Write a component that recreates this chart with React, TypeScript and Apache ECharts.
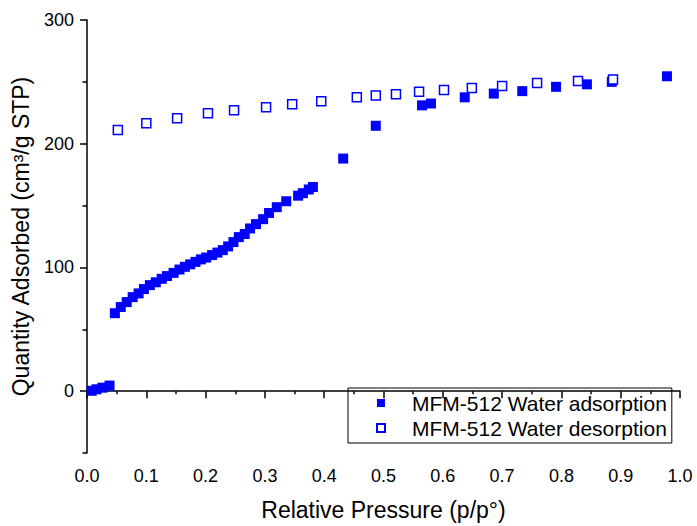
import React, { useEffect, useRef } from "react";
import * as echarts from "echarts";

const adsorptionX = [
  0.008, 0.016, 0.026, 0.038,
  0.047, 0.057, 0.067, 0.077, 0.087, 0.096, 0.106, 0.116, 0.126, 0.135, 0.146, 0.156,
  0.165, 0.174, 0.183, 0.192, 0.201, 0.211, 0.22, 0.229, 0.238, 0.247, 0.256, 0.266,
  0.275, 0.285, 0.297, 0.307, 0.32, 0.336, 0.356, 0.364, 0.374, 0.381,
  0.432, 0.487, 0.565, 0.58, 0.637, 0.686, 0.734, 0.791, 0.843, 0.885, 0.978,
];
const adsorptionY = [
  0.3, 1.5, 2.8, 4.5,
  63, 68, 72, 76, 79, 82.5, 85.7, 88, 90.8, 93, 95.6, 98.3,
  100.5, 102.5, 104.5, 106.5, 108, 110, 112, 114, 117, 120.5, 124.5, 127,
  131.5, 135, 139, 144, 148.7, 153.5, 158, 160, 163, 165,
  188, 214.5, 231, 232.5, 237.5, 240.5, 242.5, 246, 248, 250, 254.5,
];
const desorptionX = [
  0.052, 0.1, 0.152, 0.204, 0.248, 0.302, 0.346, 0.395, 0.455, 0.487, 0.521, 0.56,
  0.602, 0.649, 0.7, 0.759, 0.828, 0.887,
];
const desorptionY = [
  211, 216.5, 220.6, 224.6, 227, 229.5, 232, 234.4, 237.6, 239, 240, 242,
  243.5, 245, 246.7, 249, 250.6, 252,
];
const yMajorTicks = [0, 100, 200, 300];
const yMinorTicks = [-50, 50, 150, 250];
const seriesNames = ["MFM-512 Water adsorption", "MFM-512 Water desorption"];
const xAxisName = "Relative Pressure (p/p°)";
const yAxisName = "Quantity Adsorbed (cm³/g STP)";

const FONT = "'Liberation Sans', Arial, sans-serif";
const BLUE = "#0000ff";

export default function App() {
  const ref = useRef<HTMLDivElement>(null);
  useEffect(() => {
    if (!ref.current) return;
    const chart = echarts.init(ref.current, null, { renderer: "svg" });
    const ads = adsorptionX.map((x, i) => [x, adsorptionY[i]]);
    const des = desorptionX.map((x, i) => [x, desorptionY[i]]);
    chart.setOption({
      animation: false,
      backgroundColor: "#ffffff",
      textStyle: { fontFamily: FONT, color: "#000" },
      grid: { left: 87, right: 17, top: 20, bottom: 73, containLabel: false, outerBoundsMode: "none" },
      legend: {
        left: 348,
        top: 388,
        orient: "vertical",
        padding: [4.5, 5, 4.5, 28],
        borderColor: "#000",
        borderWidth: 1,
        itemWidth: 8,
        itemHeight: 8,
        itemGap: 4,
        icon: "rect",
        textStyle: { fontSize: 21, lineHeight: 21, color: "#000", fontFamily: FONT, padding: [0, 0, 0, 22] },
        data: seriesNames,
      },
      xAxis: {
        type: "value",
        min: 0,
        max: 1,
        interval: 0.1,
        name: xAxisName,
        nameLocation: "middle",
        nameGap: 45,
        nameTextStyle: { fontSize: 23, color: "#000", fontFamily: FONT },
        axisLine: { show: true, lineStyle: { color: "#000", width: 1.5 } },
        axisTick: { show: true, length: 7, lineStyle: { color: "#000", width: 1.5 } },
        minorTick: { show: true, splitNumber: 2, length: 3, lineStyle: { color: "#000", width: 1.5 } },
        axisLabel: {
          fontSize: 18,
          margin: 14,
          color: "#000",
          fontFamily: FONT,
          formatter: (v: number) => v.toFixed(1),
        },
        splitLine: { show: false },
      },
      yAxis: [
        {
          type: "value",
          min: -50,
          max: 300,
          interval: 50,
          position: "left",
          name: yAxisName,
          nameLocation: "middle",
          nameGap: 55,
          nameTextStyle: { fontSize: 23, color: "#000", fontFamily: FONT },
          axisLine: { show: true, lineStyle: { color: "#000", width: 1.5 } },
          axisTick: { show: true, length: 7, customValues: yMajorTicks, lineStyle: { color: "#000", width: 1.5 } },
          axisLabel: { fontSize: 18, margin: 13, color: "#000", fontFamily: FONT, customValues: yMajorTicks },
          splitLine: { show: false },
        },
        {
          type: "value",
          min: -50,
          max: 300,
          interval: 50,
          position: "left",
          axisLine: { show: false },
          axisTick: { show: true, length: 4.5, customValues: yMinorTicks, lineStyle: { color: "#000", width: 1.5 } },
          axisLabel: { show: false },
          splitLine: { show: false },
        },
      ],
      series: [
        {
          name: seriesNames[0],
          type: "scatter",
          symbol: "rect",
          symbolSize: 10,
          data: ads,
          itemStyle: { color: BLUE, opacity: 1 },
          z: 2,
        },
        {
          name: seriesNames[1],
          type: "scatter",
          symbol: "rect",
          symbolSize: 9,
          data: des,
          itemStyle: { color: "#ffffff", borderColor: BLUE, borderWidth: 1.5, opacity: 1 },
          z: 3,
        },
      ],
    });
    return () => chart.dispose();
  }, []);
  return (
    <div
      ref={ref}
      style={{ position: "fixed", left: 0, top: 0, width: 697, height: 526, background: "#fff" }}
    />
  );
}
